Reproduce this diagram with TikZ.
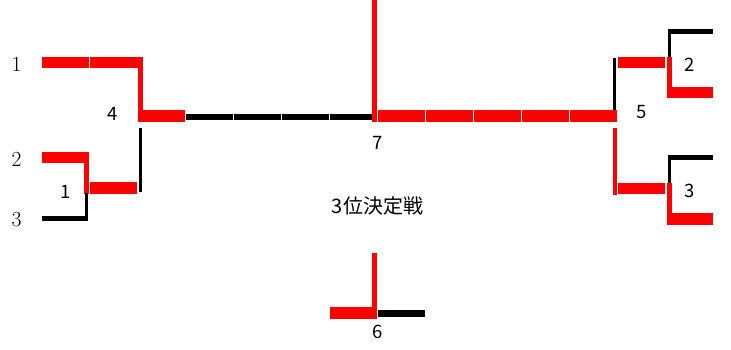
\documentclass[tikz,border=0pt]{standalone}
\usepackage{fontspec}
\newfontfamily\jp{Noto Sans CJK JP}
\begin{document}
\begin{tikzpicture}[x=1pt,y=-1pt,
  redbar/.style={fill=red},
  blkbar/.style={fill=black},
  seedlbl/.style={font=\fontsize{21.5}{21.5}\selectfont, inner sep=0pt},
  numlbl/.style={font=\jp\fontsize{18.5}{18.5}\selectfont, inner sep=0pt},
  titlelbl/.style={font=\jp\fontsize{20}{20}\selectfont, inner sep=0pt}]
\useasboundingbox (0,0) rectangle (731,350);
% ---- left bracket ----
\fill[redbar] (42,57) rectangle (88.5,68);
\fill[redbar] (89.5,57) rectangle (137.5,68);
\fill[redbar] (138,57) rectangle (143,122);
\fill[redbar] (138,110.5) rectangle (185,122);
\fill[redbar] (42,152) rectangle (88,163);
\fill[redbar] (84,152) rectangle (89,194);
\fill[redbar] (90,182) rectangle (137,193.5);
\fill[blkbar] (85,193) rectangle (88,221);
\fill[blkbar] (42,215.5) rectangle (88,221);
\fill[blkbar] (139,128) rectangle (142,192);
% ---- centre ----
\foreach \a/\b in {186/232.5,233.5/280.5,281.5/328.5,329.5/372}
  \fill[blkbar] (\a,114) rectangle (\b,120.5);
\fill[redbar] (372,0) rectangle (377,122);
\foreach \a/\b in {377.5/424.5,425.5/472.5,473.5/520.5,521.5/568.5,569.5/617}
  \fill[redbar] (\a,110.5) rectangle (\b,122.5);
% ---- right bracket ----
\fill[blkbar] (613,58) rectangle (616,110.5);
\fill[redbar] (618,57) rectangle (665,68);
\fill[redbar] (667,57) rectangle (672,98.5);
\fill[blkbar] (668,29) rectangle (671,57);
\fill[blkbar] (668,29) rectangle (713,34.5);
\fill[redbar] (667,87) rectangle (713,98.5);
\fill[redbar] (613,128) rectangle (617,195);
\fill[redbar] (618,183) rectangle (665,194);
\fill[redbar] (667,183) rectangle (672,225);
\fill[blkbar] (668,155) rectangle (671,183);
\fill[blkbar] (668,155) rectangle (713,160.5);
\fill[redbar] (667,212.5) rectangle (713,224.5);
% ---- third place ----
\fill[redbar] (372,253) rectangle (377,318.5);
\fill[redbar] (330,307) rectangle (377,319);
\fill[blkbar] (378,309.5) rectangle (425,316.5);
% ---- labels ----
\node[seedlbl] (s1) at (16.5,64) {1};
\node[seedlbl] (s2) at (16.5,159.5) {2};
\node[seedlbl] (s3) at (16.5,220) {3};
\node[numlbl] (m1) at (66,191.5) {1};
\node[numlbl] (m4) at (113,113.5) {4};
\node[numlbl] (m7) at (377.5,142.5) {7};
\node[numlbl] (m5) at (641.5,112.5) {5};
\node[numlbl] (m2) at (689.5,65) {2};
\node[numlbl] (m3) at (689.5,190.5) {3};
\node[numlbl] (m6) at (377.5,331.5) {6};
\node[titlelbl] (t) at (377.5,206) {3位決定戦};
\end{tikzpicture}
\end{document}
